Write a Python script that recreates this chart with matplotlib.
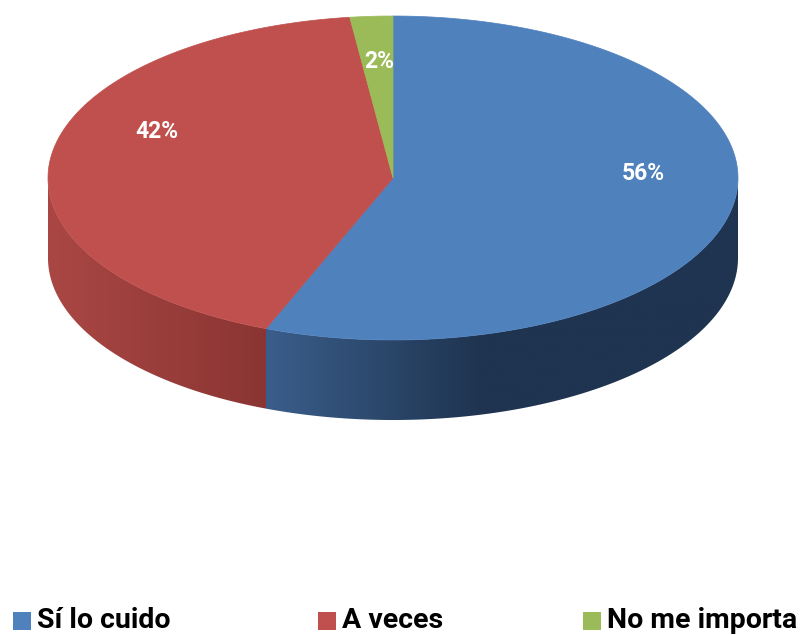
import numpy as np
import matplotlib.pyplot as plt
from matplotlib.patches import Polygon, Rectangle
from matplotlib.colors import to_rgb

# data
labels = ['Sí lo cuido', 'A veces', 'No me importa']
values = [56, 42, 2]
pct_text = ['56%', '42%', '2%']

top_colors = ['#4f81bd', '#c0504d', '#9bbb59']
# side shading: (colour at left, colour at right)
side_colors = [('#3a5e8b', '#1f3450'), ('#aa4744', '#8a3533'), ('#7f9a48', '#5f7335')]

W, H = 811, 635
fig = plt.figure(figsize=(W / 100, H / 100), dpi=100)
ax = fig.add_axes([0, 0, 1, 1])
ax.set_xlim(0, W)
ax.set_ylim(H, 0)
ax.axis('off')

cx, cy, rx, ry, depth = 393, 178, 345, 162, 80


def pt(theta, dy=0):
    t = np.radians(theta)
    return cx + rx * np.cos(t), cy - ry * np.sin(t) + dy


# angles, clockwise from 12 o'clock
total = sum(values)
starts, ends = [], []
a = 90.0
for v in values:
    starts.append(a)
    a -= 360.0 * v / total
    ends.append(a)

# side walls (front half only: 180..360 deg), gradient clipped to the wall
for i in range(len(values)):
    lo, hi = ends[i] % 360, starts[i] % 360
    if hi <= lo:
        hi += 360
    seg_lo = max(lo, 180)
    seg_hi = min(hi, 360)
    if seg_hi <= seg_lo:
        continue
    thetas = np.linspace(seg_lo, seg_hi, 200)
    top = [pt(t) for t in thetas]
    bot = [pt(t, depth) for t in thetas[::-1]]
    wall = Polygon(top + bot, closed=True, facecolor='none', edgecolor='none')
    ax.add_patch(wall)
    x0, x1 = pt(seg_lo)[0], pt(seg_hi)[0]
    c0, c1 = np.array(to_rgb(side_colors[i][0])), np.array(to_rgb(side_colors[i][1]))
    f = np.linspace(0, 1, 256)
    if i == 0:
        f = np.clip(f * 2.2, 0, 1)
    grad = (c0[None, :] * (1 - f[:, None]) + c1[None, :] * f[:, None])[None, :, :]
    ymin = min(p[1] for p in top) - 2
    ymax = max(p[1] for p in bot) + 2
    im = ax.imshow(grad, extent=(x0 - 1, x1 + 1, ymax, ymin), aspect='auto',
                   interpolation='bilinear', zorder=1)
    im.set_clip_path(wall)

# top face
for i in range(len(values)):
    ts = np.linspace(starts[i], ends[i], 200)
    poly = [(cx, cy)] + [pt(t) for t in ts]
    ax.add_patch(Polygon(poly, closed=True, facecolor=top_colors[i],
                         edgecolor=top_colors[i], lw=0.5, zorder=2))

ax.set_xlim(0, W)
ax.set_ylim(H, 0)

# data labels
label_pos = [(643, 173), (157, 132), (379, 62)]
for (x, y), s in zip(label_pos, pct_text):
    ax.text(x, y, s, color='white', fontsize=16.5, fontweight='bold',
            family='Roboto', ha='center', va='center', zorder=3)

# legend
leg_x = [13, 318, 583]
for x, lab, c in zip(leg_x, labels, top_colors):
    ax.add_patch(Rectangle((x, 612), 18, 18, facecolor=c, edgecolor='none'))
    ax.text(x + 24, 621, lab, fontsize=20.5, fontweight='bold', family='Roboto',
            ha='left', va='center', color='black')

fig.savefig('out.png', dpi=100)
